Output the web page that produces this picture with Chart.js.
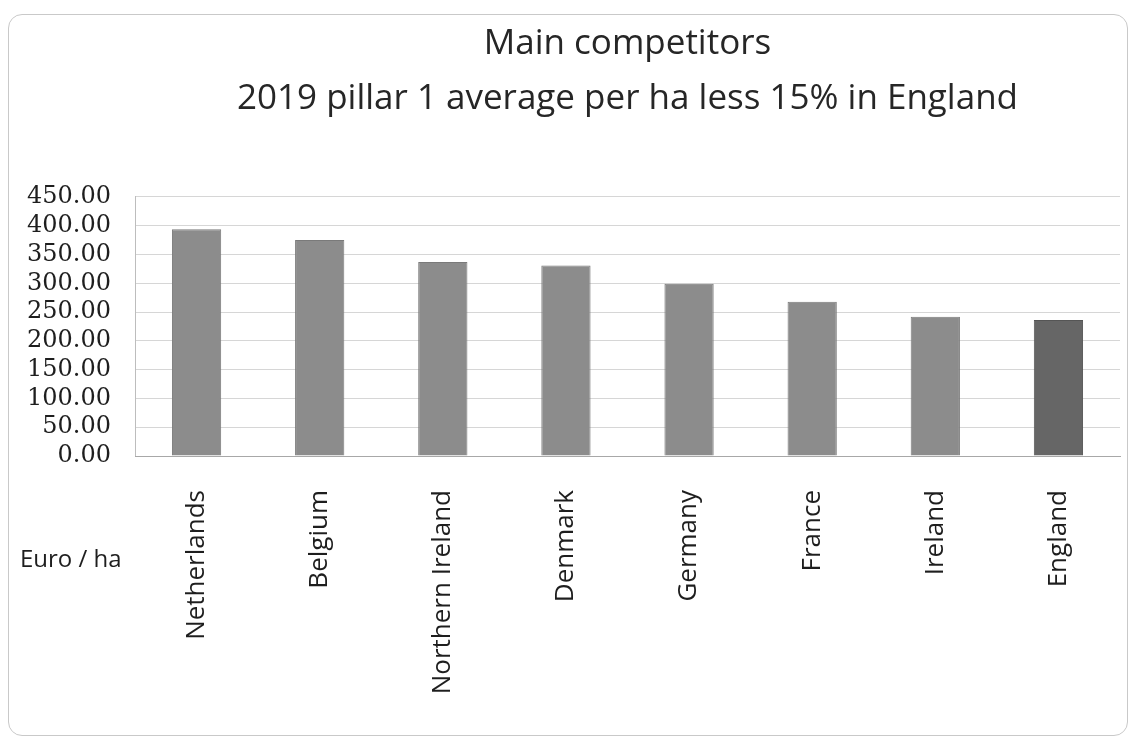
<!DOCTYPE html>
<html lang="en">
<head>
    <meta charset="UTF-8">
    <title>Main competitors</title>
    <script src="https://cdn.jsdelivr.net/npm/chart.js"></script>
    <style>
        body { margin: 0; background: #fff; }
        .moldura {
            position: absolute; left: 8px; top: 14px; width: 1118px; height: 720px;
            border: 1px solid #c9c9c9; border-radius: 14px;
        }
        .grafico { position: absolute; left: 0; top: 0; width: 1132px; height: 740px; }
    </style>
</head>
<body>
    <div class="moldura"></div>
    <div class="grafico">
        <canvas id="myChart" width="1132" height="740"></canvas>
    </div>

<script>
    const paises = ['Netherlands', 'Belgium', 'Northern Ireland', 'Denmark', 'Germany', 'France', 'Ireland', 'England'];
    const valores = [394, 375, 337, 331, 299, 268, 242, 236];
    const titulo = ['Main competitors', '2019 pillar 1 average per ha less 15% in England'];
    const unidade = 'Euro / ha';

    // England is shown darker
    const cores = paises.map(p => p === 'England' ? '#666666' : '#8c8c8c');
    const bordas = paises.map(p => p === 'England' ? '#555555' : '#7a7a7a');

    const textoUnidade = {
        id: 'textoUnidade',
        afterDraw(chart) {
            const c = chart.ctx;
            c.save();
            c.font = '24px "Open Sans"';
            c.fillStyle = '#1e1e1e';
            c.textBaseline = 'middle';
            c.fillText(unidade, 20, 560);
            c.restore();
        }
    };

    new Chart(document.getElementById('myChart'), {
        type: 'bar',
        data: {
            labels: paises,
            datasets: [{
                label: 'Euro / ha',
                data: valores,
                backgroundColor: cores,
                borderColor: bordas,
                borderWidth: 1,
                barPercentage: 0.4,
                categoryPercentage: 1
            }]
        },
        options: {
            responsive: false,
            animation: false,
            layout: { padding: { left: 15, right: 12, top: 17, bottom: 10 } },
            plugins: {
                legend: { display: false },
                tooltip: { enabled: false },
                title: {
                    display: true,
                    text: titulo,
                    fullSize: false,
                    color: '#262626',
                    font: { family: '"Open Sans"', size: 35, weight: 'normal', lineHeight: 1.57 },
                    padding: { top: 0, bottom: 70 }
                }
            },
            scales: {
                y: {
                    min: 0,
                    max: 450,
                    afterFit: s => { s.width = 120; },
                    ticks: {
                        stepSize: 50,
                        autoSkip: false,
                        padding: 24,
                        color: '#1e1e1e',
                        font: { family: '"DejaVu Serif"', size: 24, lineHeight: 1 },
                        callback: v => v.toFixed(2)
                    },
                    grid: { color: '#d6d6d6', drawTicks: false },
                    border: { color: '#bdbdbd' }
                },
                x: {
                    afterFit: s => { s.height = 274; },
                    ticks: {
                        minRotation: 90,
                        maxRotation: 90,
                        autoSkip: false,
                        padding: 26,
                        color: '#1e1e1e',
                        font: { family: '"Open Sans"', size: 26 }
                    },
                    grid: { display: false },
                    border: { color: '#a8a8a8' }
                }
            }
        },
        plugins: [textoUnidade]
    });
</script>
</body>
</html>
